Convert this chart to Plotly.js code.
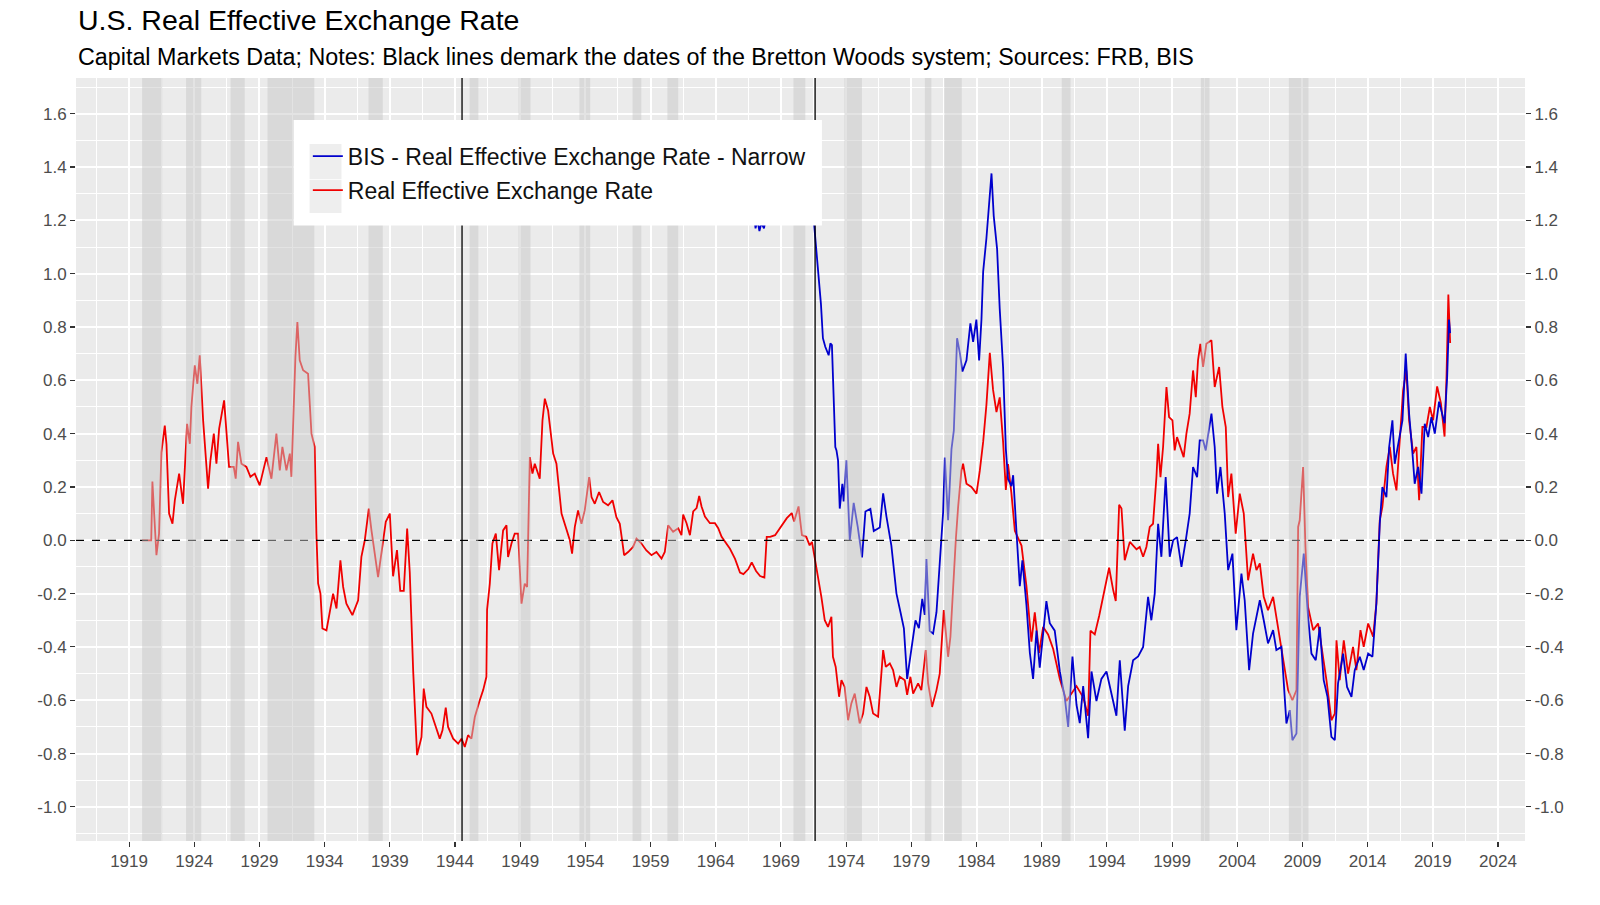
<!DOCTYPE html>
<html>
<head>
<meta charset="utf-8">
<script src="https://cdn.plot.ly/plotly-3.0.1.min.js"></script>
<style>
  html, body { margin: 0; padding: 0; background: #fff; }
  #chart { width: 1600px; height: 905px; }
</style>
</head>
<body>
<div id="chart"></div>
<script>
// Real Effective Exchange Rate (FRB), log deviation
const reerDate = [
  1920.0, 1920.7, 1920.79, 1921.1, 1921.3, 1921.48, 1921.74, 1921.87, 1922.07, 1922.33, 1922.51, 1922.84,
  1923.14, 1923.45, 1923.66, 1923.78, 1924.04, 1924.24, 1924.42, 1924.68, 1925.06, 1925.24, 1925.5, 1925.7,
  1925.91, 1926.29, 1926.67, 1927.03, 1927.18, 1927.36, 1927.62, 1928.0, 1928.31, 1928.64, 1929.02, 1929.54,
  1929.92, 1930.3, 1930.56, 1930.76, 1931.07, 1931.33, 1931.45, 1931.58, 1931.76, 1931.91, 1932.09, 1932.35,
  1932.73, 1932.99, 1933.24, 1933.37, 1933.5, 1933.68, 1933.83, 1934.14, 1934.4, 1934.65, 1934.91, 1935.21,
  1935.42, 1935.67, 1936.13, 1936.57, 1936.82, 1937.08, 1937.39, 1937.59, 1938.1, 1938.36, 1938.69, 1939.0,
  1939.25, 1939.55, 1939.8, 1940.07, 1940.33, 1940.53, 1940.79, 1941.09, 1941.43, 1941.6, 1941.81, 1942.19,
  1942.58, 1942.83, 1943.04, 1943.29, 1943.47, 1943.86, 1944.24, 1944.5, 1944.75, 1945.0, 1945.26, 1945.52,
  1945.9, 1946.16, 1946.41, 1946.46, 1946.67, 1946.87, 1947.13, 1947.38, 1947.69, 1947.95, 1948.07, 1948.33,
  1948.58, 1948.84, 1949.1, 1949.35, 1949.53, 1949.74, 1949.94, 1950.12, 1950.5, 1950.71, 1950.89, 1951.14,
  1951.53, 1951.78, 1952.17, 1952.55, 1952.81, 1952.98, 1953.19, 1953.44, 1953.7, 1953.95, 1954.29, 1954.47,
  1954.72, 1955.05, 1955.36, 1955.74, 1956.08, 1956.38, 1956.64, 1956.82, 1956.97, 1957.28, 1957.66, 1957.92,
  1958.3, 1958.68, 1959.07, 1959.45, 1959.84, 1960.09, 1960.35, 1960.73, 1961.12, 1961.37, 1961.5, 1961.76,
  1962.02, 1962.27, 1962.53, 1962.73, 1962.91, 1963.17, 1963.55, 1963.94, 1964.19, 1964.45, 1964.71, 1965.09,
  1965.48, 1965.86, 1966.12, 1966.5, 1966.76, 1967.09, 1967.4, 1967.73, 1967.91, 1968.17, 1968.55, 1969.06,
  1969.45, 1969.83, 1970.01, 1970.35, 1970.61, 1970.94, 1971.2, 1971.38, 1971.5, 1971.72, 1972.1, 1972.36,
  1972.61, 1972.87, 1972.99, 1973.2, 1973.46, 1973.64, 1973.89, 1974.15, 1974.4, 1974.66, 1975.04, 1975.3,
  1975.56, 1975.81, 1976.07, 1976.45, 1976.66, 1976.84, 1977.04, 1977.35, 1977.6, 1977.86, 1978.11, 1978.5,
  1978.68, 1978.93, 1979.14, 1979.52, 1979.77, 1980.11, 1980.29, 1980.59, 1980.93, 1981.18, 1981.49, 1981.82,
  1982.0, 1982.2, 1982.41, 1982.59, 1982.84, 1982.97, 1983.23, 1983.61, 1984.0, 1984.25, 1984.51, 1984.76,
  1985.02, 1985.27, 1985.53, 1985.78, 1986.04, 1986.25, 1986.42, 1986.68, 1986.94, 1987.19, 1987.45, 1987.83,
  1988.21, 1988.47, 1988.8, 1989.11, 1989.49, 1989.88, 1990.39, 1990.9, 1991.28, 1991.67, 1992.18, 1992.56,
  1992.74, 1993.07, 1993.41, 1993.76, 1994.17, 1994.48, 1994.68, 1994.94, 1995.12, 1995.37, 1995.76, 1996.27,
  1996.52, 1996.78, 1997.03, 1997.29, 1997.54, 1997.8, 1997.93, 1998.11, 1998.31, 1998.57, 1998.77, 1999.03,
  1999.2, 1999.38, 1999.72, 1999.89, 2000.1, 2000.35, 2000.61, 2000.82, 2000.99, 2001.17, 2001.38, 2001.63,
  2002.02, 2002.27, 2002.61, 2002.86, 2003.12, 2003.3, 2003.55, 2003.88, 2004.19, 2004.5, 2004.83, 2005.21,
  2005.47, 2005.73, 2006.03, 2006.36, 2006.75, 2007.13, 2007.39, 2007.72, 2007.9, 2008.23, 2008.54, 2008.67,
  2008.79, 2009.05, 2009.23, 2009.43, 2009.82, 2010.2, 2010.53, 2010.84, 2011.22, 2011.48, 2011.61, 2011.86,
  2012.17, 2012.5, 2012.88, 2013.14, 2013.45, 2013.7, 2014.04, 2014.42, 2014.67, 2014.93, 2015.13, 2015.44,
  2015.7, 2015.95, 2016.21, 2016.46, 2016.72, 2016.97, 2017.18, 2017.49, 2017.74, 2017.95, 2018.2, 2018.51,
  2018.77, 2019.02, 2019.33, 2019.62, 2019.9, 2020.05, 2020.19, 2020.33
];
const reerValue = [
  0.0, 0.0, 0.22, -0.056, 0.025, 0.33, 0.43, 0.36, 0.1, 0.062, 0.15, 0.25,
  0.137, 0.437, 0.362, 0.5, 0.656, 0.587, 0.694, 0.45, 0.194, 0.3, 0.4, 0.287,
  0.419, 0.525, 0.275, 0.275, 0.231, 0.369, 0.287, 0.275, 0.238, 0.25, 0.206, 0.312,
  0.231, 0.4, 0.262, 0.35, 0.262, 0.325, 0.238, 0.425, 0.688, 0.819, 0.675, 0.638,
  0.625, 0.4, 0.35, 0.025, -0.162, -0.2, -0.331, -0.338, -0.262, -0.2, -0.256, -0.075,
  -0.175, -0.238, -0.281, -0.225, -0.062, 0.0, 0.119, 0.038, -0.138, -0.05, 0.069, 0.1,
  -0.135, -0.037, -0.19, -0.19, 0.044, -0.12, -0.488, -0.806, -0.738, -0.556, -0.625, -0.65,
  -0.713, -0.744, -0.713, -0.628, -0.7, -0.744, -0.763, -0.744, -0.775, -0.731, -0.744, -0.663,
  -0.6, -0.562, -0.512, -0.26, -0.163, -0.012, 0.025, -0.112, 0.037, 0.056, -0.063, -0.012,
  0.025, 0.025, -0.238, -0.163, -0.175, 0.312, 0.25, 0.287, 0.231, 0.45, 0.531, 0.487,
  0.325, 0.287, 0.1, 0.037, 0.0, -0.05, 0.05, 0.112, 0.062, 0.112, 0.237, 0.162,
  0.137, 0.181, 0.144, 0.131, 0.15, 0.087, 0.062, 0.0, -0.056, -0.044, -0.025, 0.006,
  -0.012, -0.038, -0.056, -0.044, -0.069, -0.044, 0.056, 0.032, 0.045, 0.019, 0.096, 0.064,
  0.019, 0.108, 0.121, 0.166, 0.127, 0.089, 0.064, 0.064, 0.045, 0.013, -0.006, -0.032,
  -0.07, -0.121, -0.127, -0.108, -0.083, -0.115, -0.134, -0.14, 0.013, 0.013, 0.019, 0.057,
  0.083, 0.102, 0.07, 0.127, 0.019, 0.013, -0.019, -0.006, -0.038, -0.112, -0.212, -0.3,
  -0.325, -0.287, -0.437, -0.475, -0.587, -0.525, -0.55, -0.675, -0.612, -0.575, -0.687, -0.65,
  -0.55, -0.587, -0.65, -0.662, -0.537, -0.412, -0.475, -0.462, -0.487, -0.55, -0.512, -0.525,
  -0.58, -0.512, -0.575, -0.537, -0.562, -0.412, -0.537, -0.625, -0.562, -0.5, -0.262, -0.437,
  -0.362, -0.162, 0.0, 0.125, 0.262, 0.287, 0.212, 0.2, 0.175, 0.26, 0.369, 0.508,
  0.703, 0.564, 0.481, 0.536, 0.369, 0.189, 0.286, 0.175, 0.036, 0.008, -0.02, -0.172,
  -0.38, -0.27, -0.422, -0.325, -0.353, -0.408, -0.52, -0.603, -0.575, -0.547, -0.589, -0.658,
  -0.339, -0.353, -0.283, -0.2, -0.103, -0.186, -0.228, 0.133, 0.119, -0.075, -0.006, -0.034,
  -0.025, -0.062, -0.025, 0.05, 0.062, 0.237, 0.362, 0.237, 0.35, 0.575, 0.462, 0.45,
  0.337, 0.387, 0.337, 0.312, 0.4, 0.475, 0.637, 0.537, 0.675, 0.737, 0.65, 0.737,
  0.75, 0.575, 0.65, 0.5, 0.425, 0.162, 0.25, 0.025, 0.175, 0.1, -0.15, -0.05,
  -0.112, -0.087, -0.212, -0.262, -0.212, -0.325, -0.4, -0.5, -0.562, -0.6, -0.562, 0.05,
  0.075, 0.275, -0.025, -0.25, -0.337, -0.312, -0.425, -0.525, -0.675, -0.65, -0.375, -0.525,
  -0.375, -0.5, -0.4, -0.487, -0.337, -0.4, -0.312, -0.362, -0.237, 0.075, 0.125, 0.275,
  0.35, 0.25, 0.187, 0.387, 0.562, 0.637, 0.45, 0.325, 0.35, 0.15, 0.425, 0.425,
  0.5, 0.45, 0.577, 0.514, 0.389, 0.614, 0.922, 0.74
];

// BIS Real Effective Exchange Rate - Narrow, from 1964
const bisDate = [
  1964.0, 1965.0, 1966.0, 1966.9, 1967.05, 1967.2, 1967.35, 1967.5, 1967.7, 1967.85, 1968.5, 1969.5,
  1970.5, 1971.2, 1971.5, 1971.63, 1971.76, 1971.89, 1972.07, 1972.22, 1972.4, 1972.66, 1972.79, 1972.91,
  1973.04, 1973.17, 1973.26, 1973.38, 1973.51, 1973.71, 1973.81, 1974.02, 1974.28, 1974.58, 1974.89, 1975.22,
  1975.48, 1975.86, 1976.12, 1976.58, 1976.84, 1977.09, 1977.47, 1977.86, 1978.17, 1978.43, 1978.68, 1978.94,
  1979.32, 1979.58, 1979.84, 1980.03, 1980.16, 1980.41, 1980.67, 1980.93, 1981.18, 1981.44, 1981.57, 1981.82,
  1982.08, 1982.26, 1982.51, 1982.72, 1982.92, 1983.23, 1983.53, 1983.74, 1983.99, 1984.2, 1984.38, 1984.51,
  1984.76, 1985.02, 1985.15, 1985.32, 1985.58, 1985.78, 1986.04, 1986.25, 1986.42, 1986.68, 1986.81, 1987.06,
  1987.32, 1987.52, 1987.83, 1988.09, 1988.34, 1988.6, 1988.85, 1989.36, 1989.62, 1990.0, 1990.39, 1990.77,
  1991.03, 1991.36, 1991.67, 1991.92, 1992.18, 1992.56, 1992.82, 1993.2, 1993.58, 1993.97, 1994.35, 1994.73,
  1994.99, 1995.37, 1995.63, 1996.01, 1996.4, 1996.78, 1997.16, 1997.41, 1997.67, 1997.93, 1998.18, 1998.51,
  1998.82, 1999.08, 1999.38, 1999.72, 2000.05, 2000.35, 2000.61, 2000.92, 2001.12, 2001.38, 2001.58, 2001.84,
  2002.02, 2002.27, 2002.45, 2002.71, 2003.04, 2003.3, 2003.63, 2003.93, 2004.32, 2004.57, 2004.91, 2005.21,
  2005.47, 2005.73, 2006.03, 2006.36, 2006.75, 2007.0, 2007.39, 2007.77, 2008.03, 2008.23, 2008.54, 2008.79,
  2009.1, 2009.43, 2009.69, 2010.02, 2010.33, 2010.63, 2010.92, 2011.22, 2011.48, 2011.73, 2012.12, 2012.42,
  2012.76, 2013.01, 2013.4, 2013.7, 2014.04, 2014.37, 2014.67, 2014.93, 2015.13, 2015.44, 2015.65, 2015.9,
  2016.08, 2016.41, 2016.67, 2016.92, 2017.18, 2017.44, 2017.61, 2017.87, 2018.13, 2018.38, 2018.64, 2018.89,
  2019.15, 2019.48, 2019.76, 2019.9, 2020.1, 2020.24, 2020.33
];
const bisValue = [
  1.32, 1.38, 1.3, 1.24, 1.17, 1.2, 1.16, 1.19, 1.17, 1.21, 1.3, 1.36,
  1.33, 1.26, 1.21, 1.14, 1.064, 1.013, 0.885, 0.758, 0.726, 0.694, 0.739, 0.732,
  0.554, 0.35, 0.337, 0.3, 0.119, 0.212, 0.146, 0.3, 0.0, 0.14, 0.05, -0.064,
  0.108, 0.118, 0.035, 0.048, 0.176, 0.09, -0.02, -0.2, -0.27, -0.33, -0.52, -0.43,
  -0.3, -0.33, -0.22, -0.28, -0.07, -0.34, -0.35, -0.27, -0.1, 0.105, 0.31, 0.075,
  0.342, 0.411, 0.758, 0.703, 0.633, 0.675, 0.814, 0.744, 0.828, 0.675, 0.828, 1.008,
  1.133, 1.314, 1.376, 1.217, 1.092, 0.869, 0.647, 0.342, 0.23, 0.203, 0.244, 0.036,
  -0.172, -0.075, -0.242, -0.422, -0.52, -0.339, -0.478, -0.228, -0.311, -0.339, -0.492, -0.589,
  -0.7, -0.436, -0.617, -0.686, -0.547, -0.742, -0.492, -0.603, -0.52, -0.492, -0.575, -0.658,
  -0.45, -0.714, -0.547, -0.45, -0.436, -0.4, -0.212, -0.3, -0.2, 0.062, -0.062, 0.237,
  -0.062, 0.0, 0.012, -0.1, 0.0, 0.1, 0.275, 0.237, 0.375, 0.375, 0.337, 0.412,
  0.475, 0.35, 0.175, 0.275, 0.1, -0.112, -0.05, -0.337, -0.125, -0.225, -0.487, -0.35,
  -0.287, -0.225, -0.3, -0.387, -0.337, -0.412, -0.4, -0.687, -0.637, -0.75, -0.725, -0.212,
  -0.05, -0.287, -0.425, -0.45, -0.325, -0.525, -0.587, -0.737, -0.75, -0.537, -0.425, -0.55,
  -0.587, -0.487, -0.437, -0.487, -0.425, -0.437, -0.237, 0.062, 0.2, 0.162, 0.35, 0.45,
  0.287, 0.387, 0.45, 0.7, 0.475, 0.325, 0.212, 0.275, 0.175, 0.437, 0.387, 0.462,
  0.4, 0.52, 0.464, 0.439, 0.614, 0.828, 0.777
];

// NBER recessions (start / end, decimal years)
const recStart = [1920.0, 1923.37, 1926.79, 1929.62, 1937.37, 1945.12, 1948.87, 1953.54, 1957.62,
                  1960.29, 1969.96, 1973.87, 1980.04, 1981.54, 1990.54, 2001.21, 2007.96];
const recEnd = [1921.54, 1924.54, 1927.87, 1933.21, 1938.46, 1945.79, 1949.79, 1954.37, 1958.29,
                1961.12, 1970.87, 1975.21, 1980.54, 1982.87, 1991.21, 2001.87, 2009.46];

// Bretton Woods system: July 1944 - August 1971
const brettonWoods = [1944.54, 1971.62];

// y tick labels with plain hyphen minus, as in the original
const yTickVals = [-1.0, -0.8, -0.6, -0.4, -0.2, 0.0, 0.2, 0.4, 0.6, 0.8, 1.0, 1.2, 1.4, 1.6];
const yTickText = ['-1.0', '-0.8', '-0.6', '-0.4', '-0.2', '0.0', '0.2', '0.4', '0.6', '0.8', '1.0', '1.2', '1.4', '1.6'];

const font = 'Liberation Sans, Arial, sans-serif';
const tickFont = {family: font, size: 17, color: '#4D4D4D'};

const shapes = [];
// zero reference
shapes.push({
    type: 'line', xref: 'paper', x0: 0, x1: 1, yref: 'y', y0: 0, y1: 0,
    line: {color: 'black', width: 1.3, dash: '8px,8px'}, layer: 'above'
});
// recession shading, drawn over the lines
recStart.forEach((s, i) => {
    shapes.push({
        type: 'rect', xref: 'x', x0: s, x1: recEnd[i], yref: 'paper', y0: 0, y1: 1,
        fillcolor: 'rgba(200,200,200,0.5)', line: {width: 0}, layer: 'above'
    });
});
brettonWoods.forEach(d => {
    shapes.push({
        type: 'line', xref: 'x', x0: d, x1: d, yref: 'paper', y0: 0, y1: 1,
        line: {color: 'black', width: 1.3}, layer: 'above'
    });
});
// legend box (ggplot style, inside the panel) and key backgrounds
shapes.push({
    type: 'rect', xref: 'paper', yref: 'paper', x0: 0.1502, x1: 0.5148, y0: 0.8067, y1: 0.9448,
    fillcolor: 'white', line: {width: 0}, layer: 'above'
});
shapes.push({
    type: 'rect', xref: 'paper', yref: 'paper', x0: 0.1612, x1: 0.1832, y0: 0.8675, y1: 0.9134,
    fillcolor: '#EEEEEE', line: {width: 0}, layer: 'above'
});
shapes.push({
    type: 'rect', xref: 'paper', yref: 'paper', x0: 0.1612, x1: 0.1832, y0: 0.8231, y1: 0.8666,
    fillcolor: '#EEEEEE', line: {width: 0}, layer: 'above'
});

const data = [
    {
        x: reerDate, y: reerValue, mode: 'lines', name: 'Real Effective Exchange Rate',
        line: {color: '#F00000', width: 1.8}, legendgroup: 'b', legendrank: 2
    },
    {
        x: bisDate, y: bisValue, mode: 'lines', name: 'BIS - Real Effective Exchange Rate - Narrow',
        line: {color: '#0000CD', width: 1.8}, legendgroup: 'a', legendrank: 1
    },
    {x: [], y: [], yaxis: 'y2', showlegend: false, hoverinfo: 'skip', mode: 'lines'}
];

const yRange = [-1.128, 1.734];
const yCommon = {
    range: yRange, tickmode: 'array', tickvals: yTickVals, ticktext: yTickText,
    ticks: 'outside', ticklen: 5, tickcolor: '#333333', tickwidth: 1.1,
    tickfont: tickFont, zeroline: false, showline: false
};

const layout = {
    width: 1600,
    height: 905,
    margin: {l: 76, r: 75, t: 78, b: 64},
    paper_bgcolor: 'white',
    plot_bgcolor: '#EBEBEB',
    font: {family: font, color: 'black'},
    showlegend: true,
    legend: {
        x: 0.16, y: 0.9256, xanchor: 'left', yanchor: 'top',
        bgcolor: 'rgba(0,0,0,0)', borderwidth: 0,
        font: {family: font, size: 23, color: '#111111'},
        traceorder: 'grouped', tracegroupgap: 1
    },
    xaxis: {
        range: [1914.93, 2026.07], tickmode: 'linear', tick0: 1919, dtick: 5,
        ticks: 'outside', ticklen: 5, tickcolor: '#333333', tickwidth: 1.1,
        tickfont: tickFont, showgrid: true, gridcolor: 'white', gridwidth: 2,
        minor: {tick0: 1916.5, dtick: 2.5, showgrid: true, gridcolor: 'white', gridwidth: 1},
        zeroline: false, showline: false
    },
    yaxis: Object.assign({}, yCommon, {
        showgrid: true, gridcolor: 'white', gridwidth: 2,
        minor: {tick0: -1.1, dtick: 0.1, showgrid: true, gridcolor: 'white', gridwidth: 1}
    }),
    yaxis2: Object.assign({}, yCommon, {
        overlaying: 'y', side: 'right', anchor: 'x', showgrid: false
    }),
    shapes: shapes,
    annotations: [
        {
            text: 'U.S. Real Effective Exchange Rate',
            xref: 'paper', yref: 'paper', x: 0, y: 1.0755, xanchor: 'left', yanchor: 'middle',
            showarrow: false, font: {family: font, size: 28.5, color: 'black'}
        },
        {
            text: 'Capital Markets Data; Notes: Black lines demark the dates of the Bretton Woods system; Sources: FRB, BIS',
            xref: 'paper', yref: 'paper', x: 0, y: 1.0279, xanchor: 'left', yanchor: 'middle',
            showarrow: false, font: {family: font, size: 23.3, color: 'black'}
        }
    ]
};

Plotly.newPlot('chart', data, layout, {displayModeBar: false, staticPlot: true});
</script>
</body>
</html>
